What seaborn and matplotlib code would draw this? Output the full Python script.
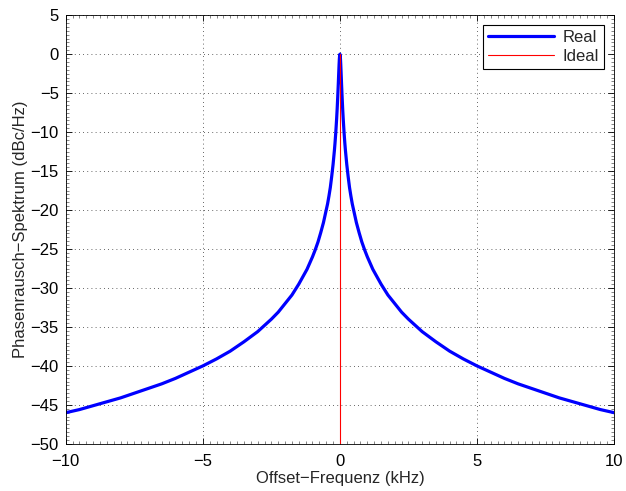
import numpy as np
import pandas as pd
import seaborn as sns
import matplotlib
matplotlib.use("Agg")
import matplotlib.pyplot as plt
from matplotlib.ticker import MultipleLocator

# values (right half, mirrored for the left half)
offset_khz = [0, 0.01, 0.02, 0.03, 0.04, 0.05, 0.06, 0.07, 0.08, 0.1, 0.12, 0.15, 0.18,
              0.2, 0.25, 0.3, 0.35, 0.4, 0.45, 0.5, 0.6, 0.7, 0.8, 0.9,
              1.0, 1.2, 1.5, 1.75, 2.0, 2.25, 2.5, 2.75, 3.0, 3.5, 4.0, 4.5, 5.0,
              5.5, 6.0, 6.5, 7.0, 7.5, 8.0, 8.5, 9.0, 9.5, 10.0]
level_dbc = [0, -0.17, -0.6, -1.3, -2.15, -3.0, -3.9, -4.7, -5.5, -7.0, -8.3, -10.0, -11.45,
             -12.3, -14.15, -15.7, -17.1, -18.2, -19.2, -20.0, -21.6, -22.9, -24.1, -25.1,
             -26.0, -27.6, -29.5, -30.9, -32.0, -33.1, -34.0, -34.8, -35.6, -36.9, -38.1, -39.1, -40.0,
             -40.8, -41.6, -42.3, -42.9, -43.5, -44.1, -44.6, -45.1, -45.6, -46.0]

ideal_khz = [0, 0]
ideal_dbc = [-100, 0]

freq = [-f for f in offset_khz[:0:-1]] + offset_khz
level = level_dbc[:0:-1] + level_dbc
real_df = pd.DataFrame({"f": freq, "L": level})
ideal_df = pd.DataFrame({"f": ideal_khz, "L": ideal_dbc})

sns.set_style("white")
plt.rcParams['font.family'] = ['Liberation Sans', 'DejaVu Sans']
plt.rcParams['axes.unicode_minus'] = True

fig, ax = plt.subplots(figsize=(6.26, 4.91), dpi=100)
fig.subplots_adjust(left=0.105, right=0.981, top=0.969, bottom=0.096)

sns.lineplot(data=real_df, x="f", y="L", ax=ax, color="#0000ff", linewidth=2.3,
             label="Real", sort=False, estimator=None)
sns.lineplot(data=ideal_df, x="f", y="L", ax=ax, color="#ff0000", linewidth=0.8,
             label="Ideal", sort=False, estimator=None)

ax.set_xlim(-10, 10)
ax.set_ylim(-50, 5)
ax.xaxis.set_major_locator(MultipleLocator(5))
ax.yaxis.set_major_locator(MultipleLocator(5))
ax.xaxis.set_minor_locator(MultipleLocator(0.25))
ax.yaxis.set_minor_locator(MultipleLocator(0.5))
ax.tick_params(which="both", direction="in", bottom=True, left=True, top=True, right=True,
               colors="black", labelsize=12)
ax.tick_params(which="major", length=4, width=0.6)
ax.tick_params(which="minor", length=2.5, width=0.5, color="#555555")
ax.tick_params(axis="x", which="major", pad=7)
ax.tick_params(axis="y", which="major", pad=5)
ax.grid(True, which="major", color="#333333", linestyle=(0, (1, 4)), linewidth=0.6)
for s in ax.spines.values():
    s.set_color("black")
    s.set_linewidth(0.6)

ax.set_xlabel("Offset\u2212Frequenz (kHz)", fontsize=12, labelpad=2)
ax.set_ylabel("Phasenrausch\u2212Spektrum (dBc/Hz)", fontsize=12, labelpad=2)

leg = ax.legend(loc="upper right", fontsize=12, frameon=True, fancybox=False,
                framealpha=1, edgecolor="black", handlelength=4.0,
                borderpad=0.3, labelspacing=0.2, handletextpad=0.5, borderaxespad=0.6)
leg.get_frame().set_linewidth(0.8)

fig.savefig("out.png", dpi=100)
